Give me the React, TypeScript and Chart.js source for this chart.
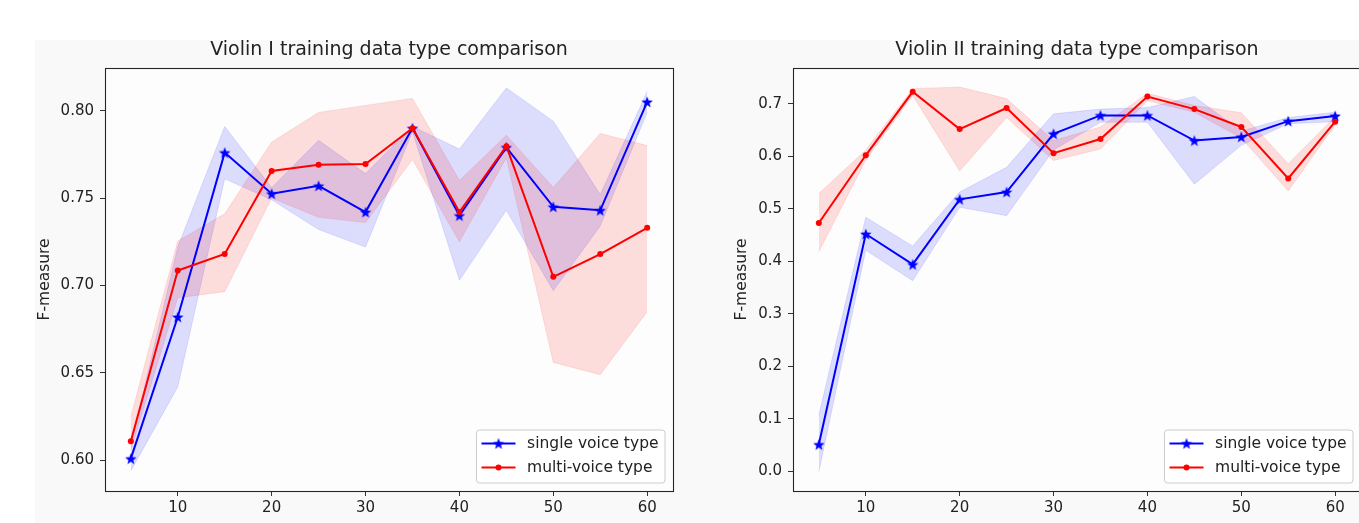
import React, { useEffect, useRef } from 'react';
import { Chart, registerables } from 'chart.js';

Chart.register(...registerables);

// Number of training pieces on the x axis
const trainingSizes = [5, 10, 15, 20, 25, 30, 35, 40, 45, 50, 55, 60];
const xTickValues = [10, 20, 30, 40, 50, 60];

// Violin I: mean F-measure and spread band
const violin1Single = [0.601, 0.682, 0.776, 0.7525, 0.757, 0.742, 0.790, 0.740, 0.779, 0.745, 0.743, 0.805];
const violin1SingleHi = [0.609, 0.722, 0.791, 0.756, 0.783, 0.764, 0.791, 0.778, 0.813, 0.794, 0.752, 0.811];
const violin1SingleLo = [0.594, 0.642, 0.761, 0.749, 0.732, 0.722, 0.788, 0.703, 0.743, 0.697, 0.734, 0.799];
const violin1Multi = [0.611, 0.7086, 0.718, 0.7655, 0.769, 0.7695, 0.790, 0.742, 0.7797, 0.705, 0.718, 0.733];
const violin1MultiHi = [0.625, 0.7255, 0.741, 0.782, 0.799, 0.803, 0.807, 0.760, 0.786, 0.756, 0.787, 0.780];
const violin1MultiLo = [0.606, 0.693, 0.6965, 0.750, 0.739, 0.736, 0.772, 0.725, 0.773, 0.656, 0.649, 0.685];
const violin1YTicks = [0.6, 0.65, 0.7, 0.75, 0.8];

// Violin II: mean F-measure and spread band
const violin2Single = [0.051, 0.452, 0.394, 0.518, 0.532, 0.643, 0.678, 0.678, 0.630, 0.637, 0.667, 0.677];
const violin2SingleHi = [0.107, 0.484, 0.429, 0.532, 0.579, 0.681, 0.690, 0.693, 0.714, 0.648, 0.674, 0.684];
const violin2SingleLo = [-0.001, 0.421, 0.363, 0.503, 0.487, 0.612, 0.665, 0.665, 0.547, 0.621, 0.662, 0.666];
const violin2Multi = [0.473, 0.602, 0.723, 0.652, 0.692, 0.606, 0.633, 0.714, 0.690, 0.656, 0.558, 0.666];
const violin2MultiHi = [0.529, 0.612, 0.729, 0.732, 0.710, 0.630, 0.656, 0.720, 0.697, 0.683, 0.586, 0.676];
const violin2MultiLo = [0.418, 0.593, 0.716, 0.572, 0.674, 0.592, 0.614, 0.706, 0.684, 0.635, 0.534, 0.660];
const violin2YTicks = [0.0, 0.1, 0.2, 0.3, 0.4, 0.5, 0.6, 0.7];

const FONT = '"DejaVu Sans", "Liberation Sans", sans-serif';
const TEXT = '#222222';
const BLUE = '#0000ff';
const RED = '#ff0000';
const BLUE_BAND = 'rgba(0, 0, 255, 0.13)';
const RED_BAND = 'rgba(255, 0, 0, 0.13)';
const BLUE_EDGE = 'rgba(0, 0, 255, 0.10)';
const RED_EDGE = 'rgba(255, 0, 0, 0.10)';

const CANVAS_W = 778;
const CANVAS_H = 523;

function makeStar(outer: number, color: string): HTMLCanvasElement {
  const size = Math.ceil(outer * 2 + 2);
  const c = document.createElement('canvas');
  c.width = size;
  c.height = size;
  const ctx = c.getContext('2d')!;
  const cx = size / 2;
  const cy = size / 2 + outer * 0.1;
  const inner = outer * 0.42;
  ctx.beginPath();
  for (let i = 0; i < 10; i++) {
    const r = i % 2 === 0 ? outer : inner;
    const a = -Math.PI / 2 + (i * Math.PI) / 5;
    const px = cx + r * Math.cos(a);
    const py = cy + r * Math.sin(a);
    if (i === 0) ctx.moveTo(px, py);
    else ctx.lineTo(px, py);
  }
  ctx.closePath();
  ctx.fillStyle = color;
  ctx.fill();
  return c;
}

const toPoints = (vals: number[]) => vals.map((y, i) => ({ x: trainingSizes[i], y }));

type PanelProps = {
  left: number;
  title: string;
  single: number[];
  singleHi: number[];
  singleLo: number[];
  multi: number[];
  multiHi: number[];
  multiLo: number[];
  yTicks: number[];
  yDecimals: number;
  yMin: number;
  yMax: number;
  yTitlePad: number;
};

// Axes background and the four spines
const framePlugin = {
  id: 'frame',
  beforeDraw(chart: any) {
    const { ctx, chartArea: a } = chart;
    ctx.save();
    ctx.fillStyle = '#fdfdfd';
    ctx.fillRect(a.left, a.top, a.right - a.left, a.bottom - a.top);
    ctx.restore();
  },
  afterDatasetsDraw(chart: any) {
    const { ctx, chartArea: a } = chart;
    ctx.save();
    ctx.strokeStyle = '#262626';
    ctx.lineWidth = 1.1;
    ctx.strokeRect(Math.round(a.left) + 0.5, Math.round(a.top) + 0.5, Math.round(a.right - a.left), Math.round(a.bottom - a.top));
    ctx.restore();
  },
};

// Legend box in the lower right corner of the axes
const cornerLegendPlugin = {
  id: 'cornerLegend',
  afterDraw(chart: any) {
    const { ctx, chartArea: a } = chart;
    const entries = chart.data.datasets.filter((d: any) => d.label);
    ctx.save();
    ctx.font = `15.5px ${FONT}`;
    const textW = Math.max(...entries.map((d: any) => ctx.measureText(d.label).width));
    const w = 50.6 + textW + 6.5;
    const h = 53;
    const x0 = a.right - 8 - w;
    const y0 = a.bottom - 8 - h;
    const r = 3;
    ctx.beginPath();
    ctx.moveTo(x0 + r, y0);
    ctx.arcTo(x0 + w, y0, x0 + w, y0 + h, r);
    ctx.arcTo(x0 + w, y0 + h, x0, y0 + h, r);
    ctx.arcTo(x0, y0 + h, x0, y0, r);
    ctx.arcTo(x0, y0, x0 + w, y0, r);
    ctx.closePath();
    ctx.fillStyle = 'rgba(255,255,255,0.8)';
    ctx.fill();
    ctx.strokeStyle = '#cccccc';
    ctx.lineWidth = 1;
    ctx.stroke();
    entries.forEach((d: any, i: number) => {
      const cy = y0 + 13.5 + i * 24;
      ctx.strokeStyle = d.borderColor;
      ctx.lineWidth = 2;
      ctx.beginPath();
      ctx.moveTo(x0 + 5, cy);
      ctx.lineTo(x0 + 39, cy);
      ctx.stroke();
      const mx = x0 + 22;
      if (d.pointStyle instanceof HTMLCanvasElement) {
        const img = d.pointStyle as HTMLCanvasElement;
        ctx.drawImage(img, mx - img.width / 2, cy - img.height / 2);
      } else {
        ctx.fillStyle = d.borderColor;
        ctx.beginPath();
        ctx.arc(mx, cy, d.pointRadius, 0, Math.PI * 2);
        ctx.fill();
      }
      ctx.fillStyle = TEXT;
      ctx.textBaseline = 'middle';
      ctx.textAlign = 'left';
      ctx.fillText(d.label, x0 + 50.6, cy + 0.5);
    });
    ctx.restore();
  },
};

function Panel(p: PanelProps) {
  const ref = useRef<HTMLCanvasElement>(null);

  useEffect(() => {
    if (!ref.current) return;
    const star = makeStar(6, BLUE);
    const chart = new Chart(ref.current, {
      type: 'line',
      data: {
        datasets: [
          {
            data: toPoints(p.singleHi),
            borderColor: BLUE_EDGE,
            backgroundColor: BLUE_BAND,
            borderWidth: 1,
            pointRadius: 0,
            fill: '+1',
            order: 3,
          },
          {
            data: toPoints(p.singleLo),
            borderColor: BLUE_EDGE,
            borderWidth: 1,
            pointRadius: 0,
            fill: false,
            order: 3,
          },
          {
            data: toPoints(p.multiHi),
            borderColor: RED_EDGE,
            backgroundColor: RED_BAND,
            borderWidth: 1,
            pointRadius: 0,
            fill: '+1',
            order: 2,
          },
          {
            data: toPoints(p.multiLo),
            borderColor: RED_EDGE,
            borderWidth: 1,
            pointRadius: 0,
            fill: false,
            order: 2,
          },
          {
            label: 'single voice type',
            data: toPoints(p.single),
            borderColor: BLUE,
            backgroundColor: BLUE,
            borderWidth: 2,
            pointStyle: star as any,
            pointRadius: 6,
            fill: false,
            order: 1,
          },
          {
            label: 'multi-voice type',
            data: toPoints(p.multi),
            borderColor: RED,
            backgroundColor: RED,
            borderWidth: 2,
            pointStyle: 'circle',
            pointRadius: 3,
            pointBorderWidth: 0,
            fill: false,
            order: 0,
          },
        ] as any,
      },
      options: {
        animation: false,
        responsive: false,
        maintainAspectRatio: false,
        devicePixelRatio: 1,
        events: [],
        layout: { padding: 0 },
        elements: { line: { tension: 0 } },
        scales: {
          x: {
            type: 'linear',
            min: 2.25,
            max: 62.75,
            afterBuildTicks: (s: any) => {
              s.ticks = xTickValues.map((v) => ({ value: v }));
            },
            afterFit: (s: any) => {
              s.height = 32;
            },
            grid: { drawOnChartArea: false, drawTicks: true, tickLength: 5, color: '#333333', lineWidth: 1 },
            border: { display: false },
            ticks: {
              font: { family: FONT, size: 15 },
              color: TEXT,
              padding: 3,
              maxRotation: 0,
              autoSkip: false,
              callback: (v: any) => String(v),
            },
          },
          y: {
            type: 'linear',
            position: 'left',
            min: p.yMin,
            max: p.yMax,
            afterBuildTicks: (s: any) => {
              s.ticks = p.yTicks.map((v) => ({ value: v }));
            },
            afterFit: (s: any) => {
              s.width = 105;
            },
            grid: { drawOnChartArea: false, drawTicks: true, tickLength: 5, color: '#333333', lineWidth: 1 },
            border: { display: false },
            title: {
              display: true,
              text: 'F-measure',
              font: { family: FONT, size: 15.5 },
              color: TEXT,
              padding: { top: p.yTitlePad, bottom: 0 },
            },
            ticks: {
              font: { family: FONT, size: 15 },
              color: TEXT,
              padding: 6,
              autoSkip: false,
              callback: (v: any) => Number(v).toFixed(p.yDecimals),
            },
          },
          // empty margin on the right so the title centres over the axes
          spacer: {
            type: 'linear',
            position: 'right',
            afterFit: (s: any) => {
              s.width = 105;
            },
            grid: { display: false },
            border: { display: false },
            ticks: { display: false },
          },
        },
        plugins: {
          legend: { display: false },
          tooltip: { enabled: false },
          title: {
            display: true,
            text: p.title,
            color: TEXT,
            font: { family: FONT, size: 19, weight: 'normal' },
            padding: { top: 39, bottom: 6 },
          },
        },
      } as any,
      plugins: [framePlugin, cornerLegendPlugin],
    });
    return () => chart.destroy();
  }, []);

  return (
    <canvas
      ref={ref}
      width={CANVAS_W}
      height={CANVAS_H}
      style={{ position: 'absolute', left: p.left, top: 0, width: CANVAS_W, height: CANVAS_H }}
    />
  );
}

export default function App() {
  return (
    <div
      style={{
        position: 'fixed',
        left: 0,
        top: 0,
        width: 1359,
        height: 523,
        overflow: 'hidden',
        background: '#ffffff',
      }}
    >
      <div style={{ position: 'absolute', left: 35, top: 40, right: 0, bottom: 0, background: '#f9f9f9' }} />
      <Panel
        left={0}
        title="Violin I training data type comparison"
        single={violin1Single}
        singleHi={violin1SingleHi}
        singleLo={violin1SingleLo}
        multi={violin1Multi}
        multiHi={violin1MultiHi}
        multiLo={violin1MultiLo}
        yTicks={violin1YTicks}
        yDecimals={2}
        yMin={0.5825}
        yMax={0.8245}
        yTitlePad={36}
      />
      <Panel
        left={688}
        title="Violin II training data type comparison"
        single={violin2Single}
        singleHi={violin2SingleHi}
        singleLo={violin2SingleLo}
        multi={violin2Multi}
        multiHi={violin2MultiHi}
        multiLo={violin2MultiLo}
        yTicks={violin2YTicks}
        yDecimals={1}
        yMin={-0.0377}
        yMax={0.7687}
        yTitlePad={45}
      />
    </div>
  );
}
